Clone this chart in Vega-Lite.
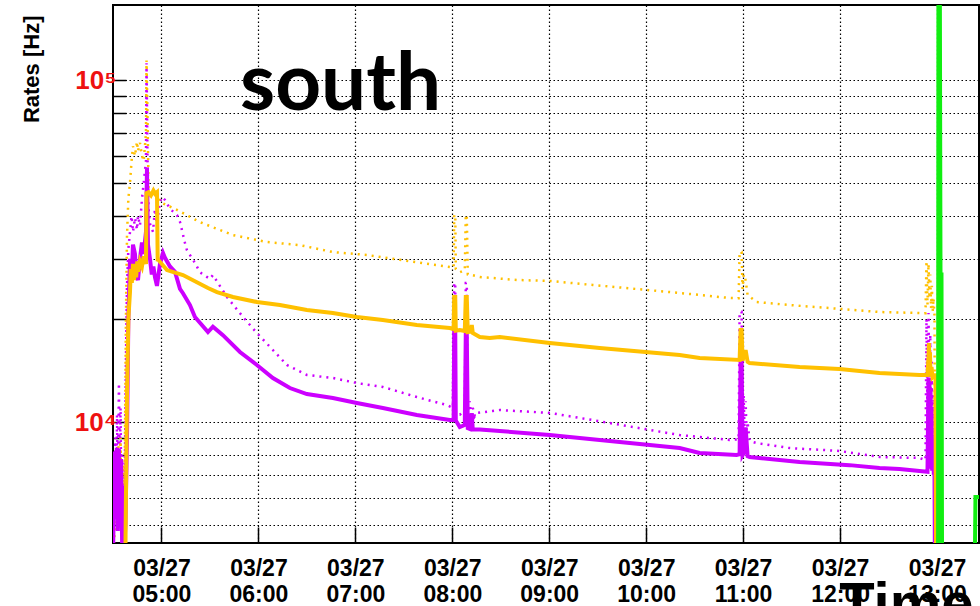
{
 "$schema": "https://vega.github.io/schema/vega-lite/v6.json",
 "width": 866, "height": 538,
 "autosize": {"type": "none"},
 "padding": {"left": 113, "top": 5, "right": 1, "bottom": 63},
 "background": "white",
 "config": {"view": {"stroke": "#000", "strokeWidth": 2}},
 "title": {"text": "south", "anchor": "start", "frame": "group", "orient": "top", "offset": 0, "dx": 127, "dy": 185, "baseline": "alphabetic", "font": "Lato", "fontSize": 80, "fontWeight": "bold", "color": "#000"},
 "datasets": {
  "P": [
   {"t":"2013-03-27T04:30:00Z","v":4000},{"t":"2013-03-27T04:31:00Z","v":8200},{"t":"2013-03-27T04:31:40Z","v":5200},{"t":"2013-03-27T04:32:20Z","v":8400},{"t":"2013-03-27T04:33:00Z","v":4800},{"t":"2013-03-27T04:33:40Z","v":8300},{"t":"2013-03-27T04:34:20Z","v":5000},{"t":"2013-03-27T04:35:00Z","v":7800},{"t":"2013-03-27T04:35:40Z","v":4300},{"t":"2013-03-27T04:36:20Z","v":6500},{"t":"2013-03-27T04:37:00Z","v":4300},{"t":"2013-03-27T04:37:40Z","v":5000},{"t":"2013-03-27T04:38:40Z","v":9000},{"t":"2013-03-27T04:39:30Z","v":20000},{"t":"2013-03-27T04:40:31Z","v":30000},{"t":"2013-03-27T04:41:30Z","v":26000},{"t":"2013-03-27T04:42:22Z","v":33000},{"t":"2013-03-27T04:43:37Z","v":31000},{"t":"2013-03-27T04:44:20Z","v":27000},{"t":"2013-03-27T04:45:28Z","v":26000},{"t":"2013-03-27T04:46:42Z","v":30000},{"t":"2013-03-27T04:47:56Z","v":33500},{"t":"2013-03-27T04:49:00Z","v":31000},{"t":"2013-03-27T04:50:25Z","v":36000},{"t":"2013-03-27T04:51:02Z","v":55000},{"t":"2013-03-27T04:51:39Z","v":33000},{"t":"2013-03-27T04:52:53Z","v":30000},{"t":"2013-03-27T04:54:00Z","v":27000},{"t":"2013-03-27T04:55:00Z","v":28500},{"t":"2013-03-27T04:56:00Z","v":26500},{"t":"2013-03-27T04:57:13Z","v":25000},{"t":"2013-03-27T04:59:04Z","v":29000},{"t":"2013-03-27T05:00:56Z","v":31200},{"t":"2013-03-27T05:02:10Z","v":30200},{"t":"2013-03-27T05:05:15Z","v":28500},{"t":"2013-03-27T05:08:21Z","v":27500},{"t":"2013-03-27T05:11:27Z","v":24500},{"t":"2013-03-27T05:13:18Z","v":23800},{"t":"2013-03-27T05:17:38Z","v":21980},{"t":"2013-03-27T05:20:43Z","v":20280},{"t":"2013-03-27T05:28:46Z","v":18330},{"t":"2013-03-27T05:31:51Z","v":19000},{"t":"2013-03-27T05:38:02Z","v":17950},{"t":"2013-03-27T05:48:34Z","v":16020},{"t":"2013-03-27T05:59:04Z","v":14680},{"t":"2013-03-27T06:08:58Z","v":13450},{"t":"2013-03-27T06:19:29Z","v":12570},{"t":"2013-03-27T06:30:00Z","v":12070},{"t":"2013-03-27T06:46:05Z","v":11750},{"t":"2013-03-27T07:00:56Z","v":11360},{"t":"2013-03-27T07:17:01Z","v":10990},{"t":"2013-03-27T07:38:03Z","v":10480},{"t":"2013-03-27T07:58:27Z","v":10130},{"t":"2013-03-27T08:00:50Z","v":10130},{"t":"2013-03-27T08:01:10Z","v":18300},{"t":"2013-03-27T08:01:50Z","v":18300},{"t":"2013-03-27T08:02:10Z","v":10100},{"t":"2013-03-27T08:04:38Z","v":9670},{"t":"2013-03-27T08:07:44Z","v":9800},{"t":"2013-03-27T08:08:21Z","v":18200},{"t":"2013-03-27T08:08:58Z","v":18200},{"t":"2013-03-27T08:09:35Z","v":9600},{"t":"2013-03-27T08:10:49Z","v":9550},{"t":"2013-03-27T08:12:04Z","v":10600},{"t":"2013-03-27T08:12:41Z","v":9500},{"t":"2013-03-27T08:17:01Z","v":9500},{"t":"2013-03-27T08:29:23Z","v":9410},{"t":"2013-03-27T09:00:19Z","v":9160},{"t":"2013-03-27T09:31:14Z","v":8860},{"t":"2013-03-27T10:20:43Z","v":8390},{"t":"2013-03-27T10:33:05Z","v":8120},{"t":"2013-03-27T10:55:59Z","v":8010},{"t":"2013-03-27T10:57:50Z","v":8050},{"t":"2013-03-27T10:58:27Z","v":15400},{"t":"2013-03-27T10:59:04Z","v":15400},{"t":"2013-03-27T10:59:40Z","v":8000},{"t":"2013-03-27T11:00:19Z","v":8100},{"t":"2013-03-27T11:01:33Z","v":9650},{"t":"2013-03-27T11:02:47Z","v":7950},{"t":"2013-03-27T11:04:01Z","v":7900},{"t":"2013-03-27T11:34:57Z","v":7640},{"t":"2013-03-27T12:05:53Z","v":7480},{"t":"2013-03-27T12:24:26Z","v":7340},{"t":"2013-03-27T12:36:48Z","v":7290},{"t":"2013-03-27T12:49:11Z","v":7190},{"t":"2013-03-27T12:54:07Z","v":7150},{"t":"2013-03-27T12:54:45Z","v":13500},{"t":"2013-03-27T12:55:10Z","v":7500},{"t":"2013-03-27T12:55:22Z","v":13000},{"t":"2013-03-27T12:55:40Z","v":8000},{"t":"2013-03-27T12:56:00Z","v":12500},{"t":"2013-03-27T12:56:20Z","v":7300},{"t":"2013-03-27T12:56:36Z","v":11000},{"t":"2013-03-27T12:57:00Z","v":7200},{"t":"2013-03-27T12:57:30Z","v":9000},{"t":"2013-03-27T12:58:00Z","v":7100},{"t":"2013-03-27T12:58:27Z","v":7100},{"t":"2013-03-27T12:58:50Z","v":3000}
  ],
  "O": [
   {"t":"2013-03-27T04:30:00Z","v":3000},{"t":"2013-03-27T04:37:25Z","v":3000},{"t":"2013-03-27T04:38:00Z","v":6000},{"t":"2013-03-27T04:38:40Z","v":12000},{"t":"2013-03-27T04:39:30Z","v":20000},{"t":"2013-03-27T04:40:31Z","v":24000},{"t":"2013-03-27T04:41:00Z","v":28000},{"t":"2013-03-27T04:41:40Z","v":25500},{"t":"2013-03-27T04:42:22Z","v":29000},{"t":"2013-03-27T04:43:00Z","v":26000},{"t":"2013-03-27T04:43:37Z","v":28500},{"t":"2013-03-27T04:44:20Z","v":26500},{"t":"2013-03-27T04:45:00Z","v":29500},{"t":"2013-03-27T04:45:40Z","v":27500},{"t":"2013-03-27T04:46:42Z","v":29500},{"t":"2013-03-27T04:47:56Z","v":28500},{"t":"2013-03-27T04:49:00Z","v":30500},{"t":"2013-03-27T04:50:25Z","v":29000},{"t":"2013-03-27T04:50:45Z","v":46700},{"t":"2013-03-27T04:52:00Z","v":47000},{"t":"2013-03-27T04:53:30Z","v":46000},{"t":"2013-03-27T04:55:00Z","v":47500},{"t":"2013-03-27T04:56:00Z","v":46500},{"t":"2013-03-27T04:57:13Z","v":47000},{"t":"2013-03-27T04:57:40Z","v":29500},{"t":"2013-03-27T04:58:00Z","v":29800},{"t":"2013-03-27T05:03:24Z","v":27820},{"t":"2013-03-27T05:13:18Z","v":26900},{"t":"2013-03-27T05:28:46Z","v":24650},{"t":"2013-03-27T05:34:20Z","v":23990},{"t":"2013-03-27T05:44:14Z","v":23200},{"t":"2013-03-27T05:59:04Z","v":22430},{"t":"2013-03-27T06:13:18Z","v":21980},{"t":"2013-03-27T06:30:00Z","v":21260},{"t":"2013-03-27T06:46:05Z","v":20830},{"t":"2013-03-27T07:00:56Z","v":20280},{"t":"2013-03-27T07:17:01Z","v":19870},{"t":"2013-03-27T07:38:03Z","v":19210},{"t":"2013-03-27T07:58:27Z","v":18830},{"t":"2013-03-27T08:00:50Z","v":18700},{"t":"2013-03-27T08:01:10Z","v":23200},{"t":"2013-03-27T08:01:50Z","v":23200},{"t":"2013-03-27T08:02:10Z","v":18500},{"t":"2013-03-27T08:04:38Z","v":18580},{"t":"2013-03-27T08:07:44Z","v":18450},{"t":"2013-03-27T08:08:21Z","v":23200},{"t":"2013-03-27T08:08:58Z","v":23200},{"t":"2013-03-27T08:09:35Z","v":18330},{"t":"2013-03-27T08:11:30Z","v":18400},{"t":"2013-03-27T08:12:04Z","v":19210},{"t":"2013-03-27T08:12:41Z","v":18200},{"t":"2013-03-27T08:17:01Z","v":17720},{"t":"2013-03-27T08:23:12Z","v":17600},{"t":"2013-03-27T08:29:23Z","v":17720},{"t":"2013-03-27T09:00:19Z","v":17020},{"t":"2013-03-27T09:31:14Z","v":16460},{"t":"2013-03-27T10:20:43Z","v":15700},{"t":"2013-03-27T10:33:05Z","v":15380},{"t":"2013-03-27T10:57:50Z","v":15180},{"t":"2013-03-27T10:58:27Z","v":18580},{"t":"2013-03-27T10:59:04Z","v":18580},{"t":"2013-03-27T10:59:40Z","v":15100},{"t":"2013-03-27T11:01:33Z","v":16240},{"t":"2013-03-27T11:02:47Z","v":15000},{"t":"2013-03-27T11:04:01Z","v":14870},{"t":"2013-03-27T11:34:57Z","v":14480},{"t":"2013-03-27T11:59:41Z","v":14290},{"t":"2013-03-27T12:24:26Z","v":13910},{"t":"2013-03-27T12:49:11Z","v":13730},{"t":"2013-03-27T12:54:07Z","v":13730},{"t":"2013-03-27T12:54:45Z","v":15500},{"t":"2013-03-27T12:55:00Z","v":17020},{"t":"2013-03-27T12:55:22Z","v":13800},{"t":"2013-03-27T12:55:40Z","v":16000},{"t":"2013-03-27T12:56:00Z","v":13600},{"t":"2013-03-27T12:56:36Z","v":14500},{"t":"2013-03-27T12:57:13Z","v":13500},{"t":"2013-03-27T12:58:27Z","v":13700},{"t":"2013-03-27T12:59:04Z","v":13700},{"t":"2013-03-27T12:59:30Z","v":3000}
  ],
  "PD": [
   {"t":"2013-03-27T04:30:00Z","v":4000},{"t":"2013-03-27T04:31:00Z","v":6000},{"t":"2013-03-27T04:31:30Z","v":9000},{"t":"2013-03-27T04:32:00Z","v":5500},{"t":"2013-03-27T04:32:30Z","v":10500},{"t":"2013-03-27T04:33:00Z","v":6000},{"t":"2013-03-27T04:33:40Z","v":13000},{"t":"2013-03-27T04:34:10Z","v":7000},{"t":"2013-03-27T04:34:40Z","v":11000},{"t":"2013-03-27T04:35:10Z","v":5500},{"t":"2013-03-27T04:35:40Z","v":8000},{"t":"2013-03-27T04:36:10Z","v":4200},{"t":"2013-03-27T04:36:40Z","v":5000},{"t":"2013-03-27T04:37:25Z","v":8000},{"t":"2013-03-27T04:38:00Z","v":15000},{"t":"2013-03-27T04:38:40Z","v":25000},{"t":"2013-03-27T04:39:30Z","v":32000},{"t":"2013-03-27T04:40:31Z","v":36000},{"t":"2013-03-27T04:41:30Z","v":40000},{"t":"2013-03-27T04:42:22Z","v":36000},{"t":"2013-03-27T04:43:37Z","v":39500},{"t":"2013-03-27T04:44:51Z","v":36500},{"t":"2013-03-27T04:45:28Z","v":40000},{"t":"2013-03-27T04:46:42Z","v":37500},{"t":"2013-03-27T04:47:56Z","v":45000},{"t":"2013-03-27T04:49:00Z","v":50000},{"t":"2013-03-27T04:50:25Z","v":58000},{"t":"2013-03-27T04:50:45Z","v":112000},{"t":"2013-03-27T04:51:20Z","v":60000},{"t":"2013-03-27T04:52:00Z","v":42000},{"t":"2013-03-27T04:52:53Z","v":38000},{"t":"2013-03-27T04:54:45Z","v":36000},{"t":"2013-03-27T04:55:59Z","v":42000},{"t":"2013-03-27T04:57:13Z","v":38000},{"t":"2013-03-27T04:59:04Z","v":44000},{"t":"2013-03-27T05:00:19Z","v":45500},{"t":"2013-03-27T05:02:10Z","v":44600},{"t":"2013-03-27T05:05:15Z","v":42000},{"t":"2013-03-27T05:09:35Z","v":40300},{"t":"2013-03-27T05:11:27Z","v":38500},{"t":"2013-03-27T05:14:32Z","v":33400},{"t":"2013-03-27T05:15:46Z","v":31800},{"t":"2013-03-27T05:20:43Z","v":29200},{"t":"2013-03-27T05:23:49Z","v":27400},{"t":"2013-03-27T05:30:00Z","v":26200},{"t":"2013-03-27T05:31:51Z","v":26900},{"t":"2013-03-27T05:40:31Z","v":23200},{"t":"2013-03-27T05:50:25Z","v":20300},{"t":"2013-03-27T05:59:04Z","v":18200},{"t":"2013-03-27T06:08:58Z","v":16240},{"t":"2013-03-27T06:17:38Z","v":14680},{"t":"2013-03-27T06:30:00Z","v":13730},{"t":"2013-03-27T06:46:05Z","v":13450},{"t":"2013-03-27T07:00:56Z","v":13000},{"t":"2013-03-27T07:17:01Z","v":12660},{"t":"2013-03-27T07:38:03Z","v":11830},{"t":"2013-03-27T07:56:36Z","v":11210},{"t":"2013-03-27T08:00:19Z","v":11000},{"t":"2013-03-27T08:01:10Z","v":25500},{"t":"2013-03-27T08:01:50Z","v":25500},{"t":"2013-03-27T08:02:10Z","v":10500},{"t":"2013-03-27T08:04:38Z","v":10500},{"t":"2013-03-27T08:07:44Z","v":10800},{"t":"2013-03-27T08:08:21Z","v":25500},{"t":"2013-03-27T08:08:58Z","v":25500},{"t":"2013-03-27T08:09:35Z","v":10000},{"t":"2013-03-27T08:10:49Z","v":11500},{"t":"2013-03-27T08:12:04Z","v":9800},{"t":"2013-03-27T08:12:41Z","v":11000},{"t":"2013-03-27T08:13:55Z","v":10400},{"t":"2013-03-27T08:15:09Z","v":10630},{"t":"2013-03-27T08:25:03Z","v":10770},{"t":"2013-03-27T08:29:23Z","v":10840},{"t":"2013-03-27T09:00:19Z","v":10630},{"t":"2013-03-27T09:26:55Z","v":10130},{"t":"2013-03-27T10:20:43Z","v":9160},{"t":"2013-03-27T10:51:39Z","v":8860},{"t":"2013-03-27T10:57:13Z","v":8900},{"t":"2013-03-27T10:57:50Z","v":21000},{"t":"2013-03-27T10:59:04Z","v":21000},{"t":"2013-03-27T10:59:40Z","v":9500},{"t":"2013-03-27T11:00:19Z","v":12000},{"t":"2013-03-27T11:01:00Z","v":9000},{"t":"2013-03-27T11:01:33Z","v":11500},{"t":"2013-03-27T11:02:10Z","v":9200},{"t":"2013-03-27T11:02:47Z","v":10000},{"t":"2013-03-27T11:04:01Z","v":8800},{"t":"2013-03-27T11:08:21Z","v":8680},{"t":"2013-03-27T11:28:46Z","v":8390},{"t":"2013-03-27T11:59:41Z","v":8230},{"t":"2013-03-27T12:24:26Z","v":7900},{"t":"2013-03-27T12:49:11Z","v":7850},{"t":"2013-03-27T12:52:53Z","v":7740},{"t":"2013-03-27T12:53:30Z","v":20000},{"t":"2013-03-27T12:54:07Z","v":10000},{"t":"2013-03-27T12:54:45Z","v":20830},{"t":"2013-03-27T12:55:22Z","v":12000},{"t":"2013-03-27T12:55:50Z","v":18000},{"t":"2013-03-27T12:56:20Z","v":9000},{"t":"2013-03-27T12:56:50Z","v":15000},{"t":"2013-03-27T12:57:20Z","v":8000},{"t":"2013-03-27T12:57:50Z","v":12000},{"t":"2013-03-27T12:58:27Z","v":7500},{"t":"2013-03-27T12:59:00Z","v":3000}
  ],
  "OD": [
   {"t":"2013-03-27T04:30:00Z","v":4000},{"t":"2013-03-27T04:31:20Z","v":5000},{"t":"2013-03-27T04:32:00Z","v":7000},{"t":"2013-03-27T04:32:40Z","v":4800},{"t":"2013-03-27T04:33:20Z","v":8500},{"t":"2013-03-27T04:34:00Z","v":5200},{"t":"2013-03-27T04:34:40Z","v":9000},{"t":"2013-03-27T04:35:20Z","v":4800},{"t":"2013-03-27T04:36:00Z","v":7500},{"t":"2013-03-27T04:36:40Z","v":4500},{"t":"2013-03-27T04:37:25Z","v":9000},{"t":"2013-03-27T04:38:00Z","v":20000},{"t":"2013-03-27T04:38:40Z","v":35000},{"t":"2013-03-27T04:39:30Z","v":45000},{"t":"2013-03-27T04:40:31Z","v":50000},{"t":"2013-03-27T04:41:30Z","v":58000},{"t":"2013-03-27T04:42:22Z","v":64000},{"t":"2013-03-27T04:43:37Z","v":60000},{"t":"2013-03-27T04:44:51Z","v":66000},{"t":"2013-03-27T04:45:28Z","v":62000},{"t":"2013-03-27T04:46:42Z","v":65500},{"t":"2013-03-27T04:47:56Z","v":60000},{"t":"2013-03-27T04:49:00Z","v":58000},{"t":"2013-03-27T04:50:25Z","v":70000},{"t":"2013-03-27T04:50:45Z","v":114000},{"t":"2013-03-27T04:51:20Z","v":80000},{"t":"2013-03-27T04:52:00Z","v":48000},{"t":"2013-03-27T04:52:53Z","v":46500},{"t":"2013-03-27T04:55:59Z","v":46700},{"t":"2013-03-27T04:57:13Z","v":46700},{"t":"2013-03-27T04:59:04Z","v":44000},{"t":"2013-03-27T05:09:35Z","v":41700},{"t":"2013-03-27T05:23:49Z","v":38400},{"t":"2013-03-27T05:44:14Z","v":35200},{"t":"2013-03-27T06:05:15Z","v":33600},{"t":"2013-03-27T06:25:40Z","v":32900},{"t":"2013-03-27T06:46:05Z","v":31400},{"t":"2013-03-27T07:07:07Z","v":30800},{"t":"2013-03-27T07:27:32Z","v":29800},{"t":"2013-03-27T07:58:27Z","v":28400},{"t":"2013-03-27T08:00:50Z","v":28300},{"t":"2013-03-27T08:01:10Z","v":40300},{"t":"2013-03-27T08:01:50Z","v":40300},{"t":"2013-03-27T08:02:10Z","v":28000},{"t":"2013-03-27T08:04:38Z","v":27400},{"t":"2013-03-27T08:07:44Z","v":27800},{"t":"2013-03-27T08:08:21Z","v":40300},{"t":"2013-03-27T08:08:58Z","v":40300},{"t":"2013-03-27T08:09:35Z","v":27000},{"t":"2013-03-27T08:12:04Z","v":26900},{"t":"2013-03-27T08:17:01Z","v":26550},{"t":"2013-03-27T08:39:54Z","v":26020},{"t":"2013-03-27T09:00:19Z","v":25850},{"t":"2013-03-27T09:26:55Z","v":25160},{"t":"2013-03-27T10:20:43Z","v":23840},{"t":"2013-03-27T10:51:39Z","v":23050},{"t":"2013-03-27T10:57:13Z","v":23000},{"t":"2013-03-27T10:57:50Z","v":31400},{"t":"2013-03-27T10:59:04Z","v":31400},{"t":"2013-03-27T10:59:40Z","v":24500},{"t":"2013-03-27T11:00:19Z","v":27000},{"t":"2013-03-27T11:01:33Z","v":26000},{"t":"2013-03-27T11:02:47Z","v":23500},{"t":"2013-03-27T11:08:21Z","v":22430},{"t":"2013-03-27T11:28:46Z","v":21980},{"t":"2013-03-27T11:53:31Z","v":21530},{"t":"2013-03-27T12:24:26Z","v":20970},{"t":"2013-03-27T12:49:11Z","v":20830},{"t":"2013-03-27T12:52:53Z","v":20800},{"t":"2013-03-27T12:53:30Z","v":29600},{"t":"2013-03-27T12:54:07Z","v":22000},{"t":"2013-03-27T12:54:45Z","v":29000},{"t":"2013-03-27T12:55:22Z","v":23000},{"t":"2013-03-27T12:55:50Z","v":27000},{"t":"2013-03-27T12:56:20Z","v":21500},{"t":"2013-03-27T12:56:50Z","v":25000},{"t":"2013-03-27T12:57:20Z","v":21000},{"t":"2013-03-27T12:57:50Z","v":23000},{"t":"2013-03-27T12:58:27Z","v":20500},{"t":"2013-03-27T12:59:00Z","v":3000}
  ],
  "G": [
   {"t":"2013-03-27T12:59:50Z","v":3000},{"t":"2013-03-27T13:00:40Z","v":3000},{"t":"2013-03-27T13:00:56Z","v":500000},{"t":"2013-03-27T13:01:33Z","v":500000},{"t":"2013-03-27T13:02:10Z","v":27000},{"t":"2013-03-27T13:02:47Z","v":27000},{"t":"2013-03-27T13:03:10Z","v":3000},{"t":"2013-03-27T13:23:12Z","v":3000},{"t":"2013-03-27T13:23:49Z","v":6040},{"t":"2013-03-27T13:27:00Z","v":6040}
  ]
 },
 "encoding": {
  "x": {"field": "t", "type": "temporal",
   "scale": {"type": "utc", "domain": [{"year": 2013, "month": 3, "date": 27, "hours": 4, "minutes": 30, "utc": true}, {"year": 2013, "month": 3, "date": 27, "hours": 13, "minutes": 26, "utc": true}]},
   "axis": {"domain": false, "grid": true, "gridColor": "#000", "gridDash": [1.5, 2.5], "gridWidth": 1.2,
    "values": [{"year": 2013, "month": 3, "date": 27, "hours": 5, "utc": true}, {"year": 2013, "month": 3, "date": 27, "hours": 6, "utc": true}, {"year": 2013, "month": 3, "date": 27, "hours": 7, "utc": true}, {"year": 2013, "month": 3, "date": 27, "hours": 8, "utc": true}, {"year": 2013, "month": 3, "date": 27, "hours": 9, "utc": true}, {"year": 2013, "month": 3, "date": 27, "hours": 10, "utc": true}, {"year": 2013, "month": 3, "date": 27, "hours": 11, "utc": true}, {"year": 2013, "month": 3, "date": 27, "hours": 12, "utc": true}, {"year": 2013, "month": 3, "date": 27, "hours": 13, "utc": true}],
    "ticks": true, "tickColor": "#000", "tickWidth": 1.5, "tickSize": -16,
    "labelExpr": "[utcFormat(datum.value,'%m/%d'), utcFormat(datum.value,'%H:%M')]",
    "labelFont": "Liberation Sans", "labelFontWeight": "bold", "labelFontSize": 23, "labelColor": "#000", "labelBaseline": "top", "labelPadding": 30, "labelLineHeight": 26,
    "title": "Time", "titleFont": "Liberation Sans", "titleFontWeight": "bold", "titleFontSize": 58, "titleColor": "#000", "titleAlign": "right", "titleBaseline": "alphabetic", "titleX": 860, "titleY": 79}},
  "y": {"field": "v", "type": "quantitative",
   "scale": {"type": "log", "domain": [4428, 165700], "nice": false},
   "axis": {"domain": false, "values": [5000, 6000, 7000, 8000, 9000, 10000, 20000, 30000, 40000, 50000, 60000, 70000, 80000, 90000, 100000],
    "grid": true, "gridColor": "#000", "gridDash": [1.5, 2.5], "gridWidth": 1.2,
    "ticks": true, "tickColor": "#000", "tickWidth": 1.5, "tickSize": -13,
    "labelExpr": "datum.value==100000 ? '10⁵' : datum.value==10000 ? '10⁴' : ''",
    "labelFont": "Liberation Sans", "labelFontWeight": "bold", "labelFontSize": 26, "labelColor": "#ee1111", "labelPadding": 10,
    "title": "Rates [Hz]", "titleFont": "Liberation Sans", "titleFontWeight": "bold", "titleFontSize": 22, "titleColor": "#000", "titleAngle": -90, "titleAlign": "right", "titleBaseline": "middle", "titleX": -82, "titleY": 10}}
 },
 "layer": [
  {"data": {"name": "PD"}, "mark": {"type": "line", "clip": true, "color": "#cc00ff", "strokeWidth": 2.5, "strokeDash": [2, 5]}},
  {"data": {"name": "OD"}, "mark": {"type": "line", "clip": true, "color": "#ffc000", "strokeWidth": 2.5, "strokeDash": [2, 5]}},
  {"data": {"name": "P"}, "mark": {"type": "line", "clip": true, "color": "#cc00ff", "strokeWidth": 4}},
  {"data": {"name": "O"}, "mark": {"type": "line", "clip": true, "color": "#ffc000", "strokeWidth": 4}},
  {"data": {"name": "G"}, "mark": {"type": "line", "clip": true, "color": "#11ee11", "strokeWidth": 4}}
 ]
}
